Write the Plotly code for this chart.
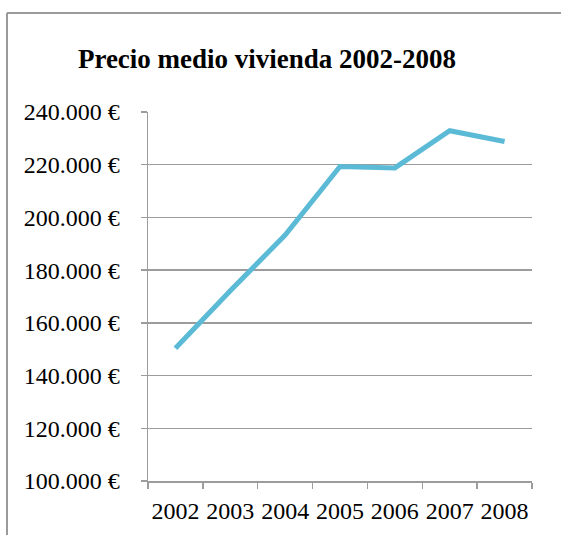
import plotly.graph_objects as go

years = ["2002", "2003", "2004", "2005", "2006", "2007", "2008"]
prices = [150400, 172200, 193300, 219300, 218800, 232900, 228800]
title_text = "Precio medio vivienda 2002-2008"

W, H = 561, 535
L, R, T, B = 148, 29, 112, 54

fig = go.Figure()
fig.add_trace(go.Scatter(
    x=years, y=prices, mode="lines",
    line=dict(color="#5bbad5", width=5),
    hoverinfo="skip", showlegend=False,
))

grid = "#9c9c9c"
serif = "Liberation Serif"

fig.update_layout(
    width=W, height=H,
    margin=dict(l=L, r=R, t=T, b=B, autoexpand=False),
    paper_bgcolor="white", plot_bgcolor="white",
    separators=",.",
    font=dict(family=serif, color="black", size=24),
    title=dict(
        text="<b>" + title_text + "</b>",
        font=dict(family=serif, size=27, color="black"),
        x=267 / W, xanchor="center", xref="container",
        y=1 - 59 / H, yanchor="middle", yref="container",
    ),
    xaxis=dict(
        type="category", range=[-0.5, 6.5], automargin=False,
        showline=True, linecolor=grid, linewidth=1.5,
        ticks="outside", ticklen=6, tickcolor=grid, tickwidth=1.5,
        tickson="boundaries", showgrid=False, zeroline=False,
        tickangle=0,
        tickfont=dict(family=serif, size=24, color="black"),
        ticklabelstandoff=8,
    ),
    yaxis=dict(
        range=[100000, 240000], dtick=20000, tick0=100000, automargin=False,
        tickformat=",.0f", ticksuffix=" €",
        showline=True, linecolor=grid, linewidth=1.5,
        ticks="outside", ticklen=6, tickcolor=grid, tickwidth=1.5,
        showgrid=True, gridcolor=grid, gridwidth=1.5, zeroline=False,
        tickfont=dict(family=serif, size=24, color="black"),
        ticklabelstandoff=16,
    ),
    shapes=[
        dict(type="line", xref="paper", yref="paper",
             x0=(7 - L) / (W - L - R), x1=(W + 5 - L) / (W - L - R),
             y0=1 + (T - 13) / (H - T - B), y1=1 + (T - 13) / (H - T - B),
             line=dict(color="#9a9a9a", width=2)),
        dict(type="line", xref="paper", yref="paper",
             x0=(7 - L) / (W - L - R), x1=(7 - L) / (W - L - R),
             y0=1 + (T - 13) / (H - T - B), y1=-(B + 5) / (H - T - B),
             line=dict(color="#9a9a9a", width=2)),
    ],
)

fig.write_html("out.html",
               config={"displayModeBar": False, "staticPlot": True},
               post_script="document.body.style.margin='0';document.body.style.overflow='hidden';")
